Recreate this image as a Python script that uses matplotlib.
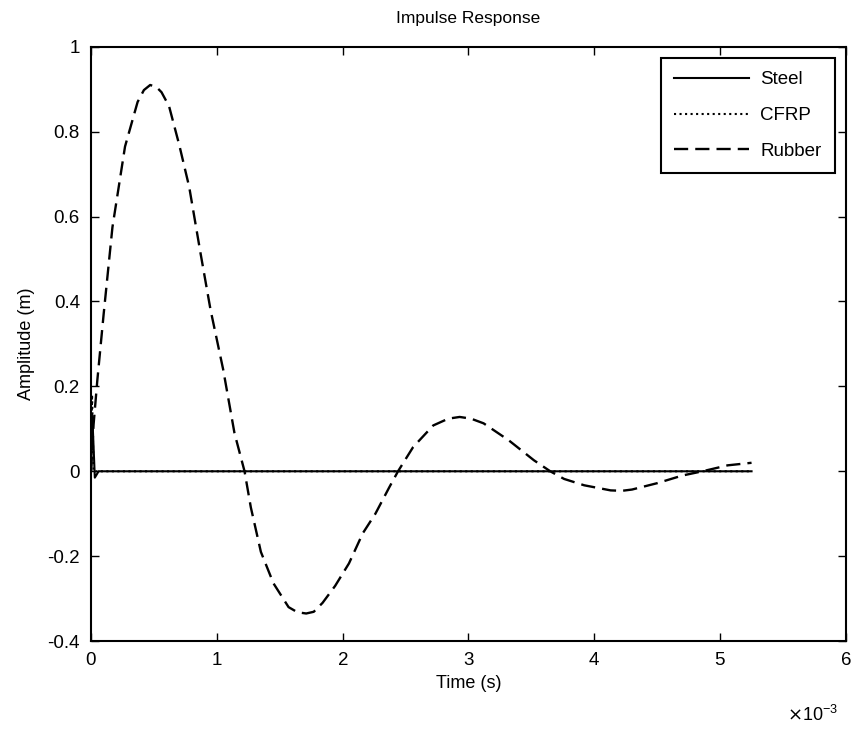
import matplotlib.pyplot as plt
from matplotlib.ticker import ScalarFormatter

plt.rcParams['font.family'] = ['Liberation Sans', 'DejaVu Sans']

# time in ms, amplitude in m
t_rubber = [0, 0.02, 0.05, 0.10, 0.17, 0.27, 0.37, 0.42, 0.47, 0.52, 0.56, 0.62, 0.70, 0.78,
            0.87, 0.95, 1.05, 1.14, 1.22, 1.27, 1.35, 1.45, 1.57, 1.64, 1.71, 1.77, 1.84,
            1.94, 2.05, 2.16, 2.26, 2.37, 2.44, 2.56, 2.72, 2.84, 2.93, 3.02, 3.12, 3.32,
            3.52, 3.65, 3.76, 3.92, 4.13, 4.22, 4.30, 4.50, 4.70, 4.86, 5.06, 5.25]
a_rubber = [0, 0.11, 0.215, 0.37, 0.575, 0.765, 0.87, 0.898, 0.91, 0.905, 0.893, 0.86, 0.77, 0.67,
            0.514, 0.38, 0.24, 0.09, 0.0, -0.085, -0.19, -0.264, -0.32, -0.332, -0.335, -0.331, -0.31,
            -0.27, -0.217, -0.146, -0.10, -0.038, 0.0, 0.057, 0.108, 0.124, 0.128, 0.124, 0.113, 0.073,
            0.026, 0.0, -0.018, -0.033, -0.045, -0.046, -0.043, -0.028, -0.01, 0.0, 0.014, 0.02]

t_steel = [0, 0.01, 0.03, 0.06, 5.25]
a_steel = [0.0, 0.13, -0.015, 0.0, 0.0]

t_cfrp = [0, 0.008, 0.02, 0.05, 5.25]
a_cfrp = [0.0, 0.18, 0.0, 0.0, 0.0]

fig = plt.figure(figsize=(8.51, 7.31), dpi=100)
ax = fig.add_axes([0.107, 0.123, 0.887, 0.813])

ax.plot([t * 1e-3 for t in t_steel], a_steel, color='black', lw=1.5, ls='-', label='Steel')
ax.plot([t * 1e-3 for t in t_cfrp], a_cfrp, color='black', lw=1.5, ls=':', label='CFRP')
ax.plot([t * 1e-3 for t in t_rubber], a_rubber, color='black', lw=1.7,
        ls=(0, (6, 3)), label='Rubber')

ax.set_xlim(0, 6e-3)
ax.set_ylim(-0.4, 1)
ax.set_xticks([0, 1e-3, 2e-3, 3e-3, 4e-3, 5e-3, 6e-3])
ax.set_yticks([-0.4, -0.2, 0, 0.2, 0.4, 0.6, 0.8, 1])
ax.set_yticklabels(['-0.4', '-0.2', '0', '0.2', '0.4', '0.6', '0.8', '1'])

fmt = ScalarFormatter(useMathText=True)
fmt.set_powerlimits((-2, 2))
ax.xaxis.set_major_formatter(fmt)
ax.xaxis.get_offset_text().set_visible(False)
fig.text(0.925, 0.008, r'$\times$10$^{\mathregular{-3}}$', fontsize=13, ha='left', va='bottom')

ax.tick_params(direction='in', top=True, right=True, labelsize=13.5, length=6, width=1, pad=8)
for s in ax.spines.values():
    s.set_linewidth(1.5)

ax.set_xlabel('Time (s)', fontsize=13, labelpad=4)
ax.set_ylabel('Amplitude (m)', fontsize=13, labelpad=9)
ax.set_title('Impulse Response', fontsize=12.5, pad=17)

leg = ax.legend(loc='upper right', fontsize=13.5, handlelength=4.0, fancybox=False,
                edgecolor='black', framealpha=1, borderaxespad=0.6,
                labelspacing=1.0, borderpad=0.7, handletextpad=0.6)
leg.get_frame().set_linewidth(1.5)

fig.savefig('out.png')
